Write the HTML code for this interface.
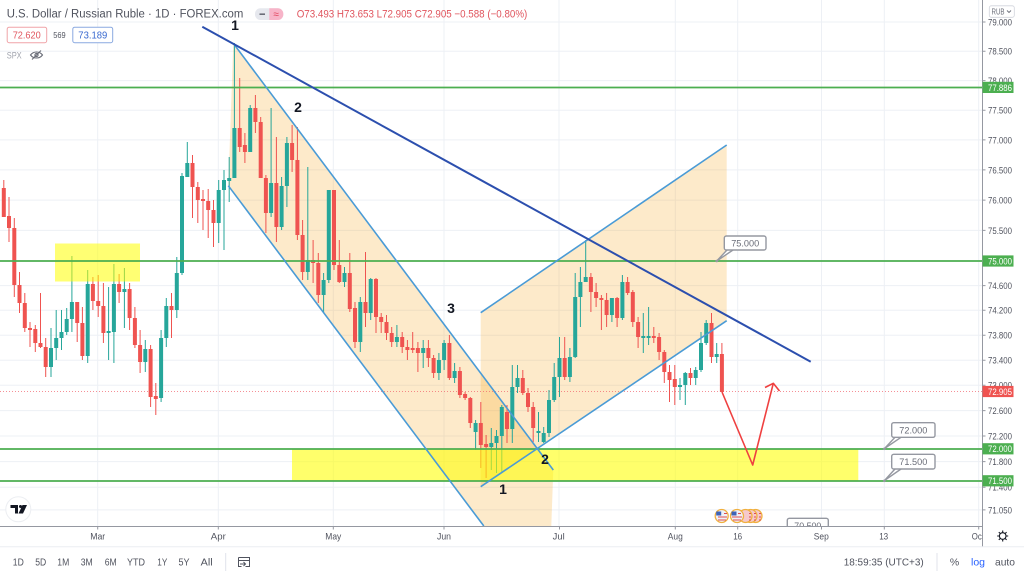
<!DOCTYPE html>
<html><head><meta charset="utf-8">
<style>
html,body{margin:0;padding:0;background:#fff;width:1024px;height:576px;overflow:hidden;}
svg{display:block;position:absolute;left:0;top:0;font-family:"Liberation Sans",sans-serif;}
</style></head>
<body>
<svg width="1024" height="576" viewBox="0 0 1024 576" xmlns="http://www.w3.org/2000/svg">
<defs>
<clipPath id="plot"><rect x="0" y="0" width="982" height="526"/></clipPath>
</defs>
<rect width="1024" height="576" fill="#fff"/>

<!-- grid -->
<g stroke="#edf0f5" stroke-width="1">
<path d="M0 22H982M0 51.2H982M0 80.6H982M0 110.2H982M0 139.9H982M0 169.9H982M0 200.1H982M0 230.4H982M0 261H982M0 285.6H982M0 310.3H982M0 335.2H982M0 360.2H982M0 385.3H982M0 410.6H982M0 436H982M0 461.6H982M0 487.3H982M0 509.9H982"/>
<path d="M97.7 0V526M218.3 0V526M333.3 0V526M444 0V526M559 0V526M675.3 0V526M737.7 0V526M821.5 0V526M884.3 0V526M978.7 0V526"/>
</g>

<g clip-path="url(#plot)">
<!-- peach shadings -->
<polygon points="233.3,43.3 553.3,470 551.3,526 483.8,526 228.3,185.7" fill="rgba(245,166,35,0.24)"/>
<polygon points="480.7,312.7 726.7,145 726.7,320.7 480.7,486.7" fill="rgba(245,166,35,0.24)"/>

<!-- last price dotted line -->
<path d="M0 391.5H982" stroke="#f2606a" stroke-width="1" stroke-dasharray="1,2" opacity="0.7"/>

<!-- candles: wicks -->
<path stroke="#26a69a" stroke-width="1" fill="none" d="M51 328V377M56.2 310V360M61.5 310V350M66.7 308V335M71.9 256V332M87.7 270V363M108.6 287V360M113.9 264V363M124.4 268V328M145.3 340V372M161.1 330V402M166.3 298V347M176.8 257V318M182 173V275M187.3 142V177M218.7 180V243M224 170V250M229.2 157V202M234.4 43V178M250.2 105V152M271.1 108V217M281.6 177V230M286.9 137V207M307.8 167V280M323.6 273V313M328.8 190V283M344.5 267V287M360.3 297V352M370.7 278V320M396.9 325V347M423.2 340V368M438.9 353V380M444.1 340V370M454.6 363V383M475.6 420V450M491.3 428V470M496.5 430V473M501.8 405V472M512.3 365V443M517.5 365V393M538.5 412V442M543.7 427V443M549 390V437M554.2 363V402M559.5 337V397M569.9 348V382M575.2 273V358M580.4 267V327M585.7 240V282M611.9 298V322M622.4 275V320M643.3 313V353M648.6 307V345M680 378V400M685.3 372V405M695.7 367V385M701 332V372M706.2 320V345M716.7 343V363"/>
<path stroke="#ef5350" stroke-width="1" fill="none" d="M3.8 180V217M9 197V242M14.3 218V297M19.5 272V313M24.8 293V332M30 322V347M35.3 325V352M40.5 293V348M45.7 338V377M77.2 302V342M82.4 307V360M92.9 277V310M98.2 275V317M103.4 283V343M119.1 274V303M129.6 283V330M134.9 307V348M140.1 330V373M150.6 345V407M155.8 383V415M171.5 293V338M192.5 155V218M197.8 182V223M203 190V230M208.2 189V238M213.5 200V247M239.7 78V152M244.9 133V163M255.4 95V133M260.7 117V178M265.9 175V233M276.4 137V242M292.1 125V172M297.4 127V240M302.6 220V280M313.1 240V283M318.3 253V303M334 190V270M339.3 240V283M349.8 253V312M355 302V348M365.5 252V327M376 278V333M381.2 313V333M386.5 315V340M391.7 327V347M402.2 332V353M407.4 340V360M412.7 332V353M417.9 342V372M428.4 340V367M433.6 355V378M449.4 335V380M459.9 367V398M465.1 392V400M470.3 397V428M480.8 402V468M486.1 435V478M507 405V443M522.8 370V395M528 388V412M533.2 402V442M564.7 337V380M590.9 273V312M596.1 283V307M601.4 295V330M606.6 293V327M617.1 297V327M627.6 277V295M632.8 290V327M638.1 317V348M653.8 327V343M659.1 333V360M664.3 350V383M669.5 365V402M674.8 365V405M690.5 368V385M711.5 313V363M721.9 343V392"/>
<!-- candles: bodies -->
<path fill="#26a69a" d="M49 348h4v19h-4zM54.2 338h4v10h-4zM59.5 332h4v6h-4zM64.7 319h4v13h-4zM69.9 302h4v17h-4zM85.7 284h4v72h-4zM106.6 331h4v2h-4zM111.9 284h4v48h-4zM122.4 289h4v3h-4zM143.3 349h4v13h-4zM159.1 338h4v60h-4zM164.3 306h4v32h-4zM174.8 273h4v37h-4zM180 176h4v97h-4zM185.3 163h4v14h-4zM216.7 190h4v33h-4zM222 180h4v10h-4zM227.2 178h4v3h-4zM232.4 128h4v50h-4zM248.2 108h4v44h-4zM269.1 183h4v30h-4zM279.6 186h4v41h-4zM284.9 143h4v43h-4zM305.8 260h4v12h-4zM321.6 280h4v15h-4zM326.8 190h4v90h-4zM342.5 273h4v9h-4zM358.3 302h4v40h-4zM368.7 279h4v34h-4zM394.9 337h4v5h-4zM421.2 348h4v5h-4zM436.9 360h4v13h-4zM442.1 343h4v17h-4zM452.6 371h4v7h-4zM473.6 423h4v9h-4zM489.3 443h4v4h-4zM494.5 436h4v7h-4zM499.8 407h4v29h-4zM510.3 387h4v42h-4zM515.5 378h4v9h-4zM536.5 431h4v2h-4zM541.7 433h4v9h-4zM547 400h4v33h-4zM552.2 377h4v23h-4zM557.5 358h4v19h-4zM567.9 357h4v20h-4zM573.2 297h4v60h-4zM578.4 282h4v15h-4zM583.7 277h4v5h-4zM609.9 298h4v17h-4zM620.4 282h4v36h-4zM641.3 336h4v2h-4zM646.6 336h4v2h-4zM678 385h4v2h-4zM683.3 373h4v12h-4zM693.7 370h4v8h-4zM699 343h4v27h-4zM704.2 323h4v20h-4zM714.7 354h4v3h-4z"/>
<path fill="#ef5350" d="M1.8 188h4v29h-4zM7 216h4v12h-4zM12.3 228h4v57h-4zM17.5 285h4v18h-4zM22.8 303h4v25h-4zM28 328h4v2h-4zM33.3 329h4v14h-4zM38.5 343h4v4h-4zM43.7 347h4v20h-4zM75.2 302h4v21h-4zM80.4 323h4v33h-4zM90.9 284h4v17h-4zM96.2 301h4v5h-4zM101.4 306h4v27h-4zM117.1 284h4v8h-4zM127.6 289h4v29h-4zM132.9 318h4v27h-4zM138.1 345h4v17h-4zM148.6 349h4v48h-4zM153.8 396h4v3h-4zM169.5 306h4v4h-4zM190.5 163h4v24h-4zM195.8 187h4v13h-4zM201 199h4v2h-4zM206.2 201h4v9h-4zM211.5 210h4v13h-4zM237.7 128h4v19h-4zM242.9 145h4v7h-4zM253.4 108h4v14h-4zM258.7 122h4v56h-4zM263.9 178h4v35h-4zM274.4 183h4v44h-4zM290.1 143h4v17h-4zM295.4 160h4v75h-4zM300.6 235h4v37h-4zM311.1 260h4v3h-4zM316.3 263h4v32h-4zM332 190h4v75h-4zM337.3 265h4v17h-4zM347.8 273h4v36h-4zM353 308h4v34h-4zM363.5 302h4v11h-4zM374 279h4v38h-4zM379.2 317h4v5h-4zM384.5 322h4v11h-4zM389.7 333h4v9h-4zM400.2 337h4v10h-4zM405.4 347h4v3h-4zM410.7 348h4v2h-4zM415.9 348h4v5h-4zM426.4 348h4v10h-4zM431.6 358h4v15h-4zM447.4 343h4v35h-4zM457.9 371h4v24h-4zM463.1 394h4v4h-4zM468.3 398h4v25h-4zM478.8 423h4v22h-4zM484.1 444h4v3h-4zM505 412h4v17h-4zM520.8 378h4v15h-4zM526 393h4v14h-4zM531.2 407h4v21h-4zM562.7 358h4v19h-4zM588.9 277h4v15h-4zM594.1 292h4v6h-4zM599.4 298h4v2h-4zM604.6 300h4v15h-4zM615.1 298h4v20h-4zM625.6 282h4v11h-4zM630.8 292h4v30h-4zM636.1 322h4v15h-4zM651.8 336h4v2h-4zM657.1 337h4v15h-4zM662.3 352h4v20h-4zM667.5 372h4v8h-4zM672.8 379h4v8h-4zM688.5 373h4v5h-4zM709.5 323h4v34h-4zM719.9 354h4v38h-4z"/>

<!-- yellow boxes -->
<rect x="55" y="243.5" width="85" height="38" fill="rgba(255,255,0,0.55)"/>
<rect x="292" y="449" width="566.3" height="31.5" fill="rgba(255,255,0,0.58)"/>

<!-- green horizontal lines -->
<g stroke="#4caf50" stroke-width="1.7">
<path d="M0 87.5H982M0 261H982M0 449H982M0 481H982"/>
</g>

<!-- channel lines -->
<g stroke="#4a9bd6" stroke-width="1.6" fill="none">
<path d="M233.3 43.3L553.3 470"/>
<path d="M228.3 185.7L483.8 526"/>
<path d="M480.7 486.7L726.7 320.7"/>
<path d="M480.7 312.7L726.7 145"/>
</g>
<!-- trend line -->
<path d="M202.3 26.7L810.7 361.7" stroke="#2c4fae" stroke-width="2" fill="none"/>

<!-- red arrow -->
<g stroke="#ef4040" stroke-width="1.6" fill="none" stroke-linejoin="round">
<path d="M722 392L752.7 465L773.3 383.3"/>
<path d="M765 387.5L773.3 383.3L779.5 391"/>
</g>

<!-- wave labels -->
<g font-size="14" font-weight="bold" fill="#131722" text-anchor="middle">
<text x="235" y="30">1</text>
<text x="298" y="112">2</text>
<text x="451" y="313">3</text>
<text x="545" y="464">2</text>
<text x="503" y="494">1</text>
</g>

<!-- callouts -->
<g stroke="#9598a1" stroke-width="1.4" fill="#fff">
<path d="M727 250L716.7 261L733 250" fill="#fff"/>
<rect x="724.3" y="236" width="41.7" height="14" rx="2"/>
<path d="M895 437.3L884.3 448.7L901 437.3"/>
<rect x="891.7" y="422.7" width="43.3" height="14.6" rx="2"/>
<path d="M895 469L884.3 480.7L901 469"/>
<rect x="891.7" y="454.3" width="43.3" height="14.7" rx="2"/>
<rect x="787.3" y="518.3" width="41" height="10" rx="2"/>
</g>
<g fill="#6a6d78" font-size="9.5" text-anchor="middle">
<text x="745.2" y="246.5" textLength="28" lengthAdjust="spacingAndGlyphs">75.000</text>
<text x="913.3" y="433.5" textLength="28" lengthAdjust="spacingAndGlyphs">72.000</text>
<text x="913.3" y="465.2" textLength="28" lengthAdjust="spacingAndGlyphs">71.500</text>
<text x="807.8" y="529" textLength="27" lengthAdjust="spacingAndGlyphs">70.500</text>
</g>
<circle cx="716.7" cy="261" r="1.3" fill="#9598a1"/>
<circle cx="884.3" cy="448.8" r="1.3" fill="#9598a1"/>
<circle cx="884.3" cy="480.8" r="1.3" fill="#9598a1"/>

<!-- event icons -->
<g stroke="#f0b040" stroke-width="1.3">
<circle cx="755.5" cy="516" r="6.5" fill="#f6c9cc"/>
<circle cx="750.5" cy="516" r="6.5" fill="#f6c9cc"/>
<circle cx="745.5" cy="516" r="6.5" fill="#f6c9cc"/>
<circle cx="737" cy="516" r="6.5" fill="#eef1f8"/>
<circle cx="721.7" cy="516" r="6.5" fill="#eef1f8"/>
</g>
<g stroke="#e05050" stroke-width="1.1">
<path d="M759 513.5h2M759 517h2M759 520h2M754 513.5h2M754 517h2M754 520h2M749 513.5h2M749 517h2M749 520h2"/>
<path d="M732 517h10M733 520h8M718 517h9M718 520h8M727 513.5h-3"/>
<path d="M741 513.5h-3"/>
</g>
<rect x="731.5" y="511.5" width="5" height="4" fill="#3d63b8"/>
<rect x="716.2" y="511.5" width="5" height="4" fill="#3d63b8"/>
</g>

<!-- header legend -->
<text x="6.7" y="17.5" font-size="11.5" fill="#50535e" textLength="236.6" lengthAdjust="spacingAndGlyphs">U.S. Dollar / Russian Ruble · 1D · FOREX.com</text>
<rect x="255" y="8.3" width="28.3" height="11.7" rx="5.5" fill="#e6e8ee"/>
<path d="M269.3 8.3h8.5a5.5 5.5 0 0 1 5.5 5.5v0.7a5.5 5.5 0 0 1 -5.5 5.5h-8.5z" fill="#f7b4c8"/>
<path d="M259.5 14.2h5.5" stroke="#6a6d78" stroke-width="1.6"/>
<text x="276.3" y="17.5" font-size="10" fill="#e0405a" text-anchor="middle">≈</text>
<text x="296.7" y="17.5" font-size="11" fill="#e0555e" textLength="230.6" lengthAdjust="spacingAndGlyphs">O73.493 H73.653 L72.905 C72.905 −0.588 (−0.80%)</text>

<rect x="7.2" y="27.2" width="39.5" height="15.5" rx="2" fill="#fff" stroke="#f0a4a8" stroke-width="1"/>
<text x="12.7" y="38.3" font-size="10.5" fill="#e0555e" textLength="28" lengthAdjust="spacingAndGlyphs">72.620</text>
<text x="53.3" y="37.8" font-size="8.5" fill="#50535e" textLength="12.4" lengthAdjust="spacingAndGlyphs">569</text>
<rect x="72.8" y="27.2" width="39.9" height="15.5" rx="2" fill="#fff" stroke="#8aa9e0" stroke-width="1"/>
<text x="78.3" y="38.3" font-size="10.5" fill="#3a6ad0" textLength="29" lengthAdjust="spacingAndGlyphs">73.189</text>
<text x="6.7" y="58.5" font-size="9.5" fill="#a0a3ad" textLength="15" lengthAdjust="spacingAndGlyphs">SPX</text>
<g stroke="#6a6d78" stroke-width="1.1" fill="none">
<path d="M30.5 55c3-4 9-4 12 0c-3 4-9 4-12 0z"/>
<circle cx="36.5" cy="55" r="1.6"/>
<path d="M32 59.5L41 50.5"/>
</g>

<!-- TV logo -->
<circle cx="18.3" cy="509.3" r="12.5" fill="#fff" stroke="#eceef2" stroke-width="1"/>
<path d="M10.5 505h7.5v8.5h-3v-5.5h-4.5z" fill="#131722"/>
<circle cx="20.5" cy="506.5" r="1.5" fill="#131722"/>
<path d="M22.5 505h4.5l-4 8.5h-4.5z" fill="#131722"/>

<!-- price axis -->
<path d="M982.5 0V547" stroke="#9598a1" stroke-width="1"/>
<g stroke="#9598a1" stroke-width="1">
<path d="M982.5 22h3M982.5 51.2h3M982.5 80.6h3M982.5 110.2h3M982.5 139.9h3M982.5 169.9h3M982.5 200.1h3M982.5 230.4h3M982.5 285.6h3M982.5 310.3h3M982.5 335.2h3M982.5 360.2h3M982.5 385.3h3M982.5 410.6h3M982.5 436h3M982.5 461.6h3M982.5 487.3h3M982.5 509.9h3"/>
</g>
<g font-size="9.5" fill="#50535e">
<text x="988" y="25.4" textLength="24" lengthAdjust="spacingAndGlyphs">79.000</text>
<text x="988" y="54.6" textLength="24" lengthAdjust="spacingAndGlyphs">78.500</text>
<text x="988" y="84" textLength="24" lengthAdjust="spacingAndGlyphs">78.000</text>
<text x="988" y="113.6" textLength="24" lengthAdjust="spacingAndGlyphs">77.500</text>
<text x="988" y="143.3" textLength="24" lengthAdjust="spacingAndGlyphs">77.000</text>
<text x="988" y="173.3" textLength="24" lengthAdjust="spacingAndGlyphs">76.500</text>
<text x="988" y="203.5" textLength="24" lengthAdjust="spacingAndGlyphs">76.000</text>
<text x="988" y="233.8" textLength="24" lengthAdjust="spacingAndGlyphs">75.500</text>
<text x="988" y="289" textLength="24" lengthAdjust="spacingAndGlyphs">74.600</text>
<text x="988" y="313.7" textLength="24" lengthAdjust="spacingAndGlyphs">74.200</text>
<text x="988" y="338.6" textLength="24" lengthAdjust="spacingAndGlyphs">73.800</text>
<text x="988" y="363.6" textLength="24" lengthAdjust="spacingAndGlyphs">73.400</text>
<text x="988" y="388.7" textLength="24" lengthAdjust="spacingAndGlyphs">73.000</text>
<text x="988" y="414" textLength="24" lengthAdjust="spacingAndGlyphs">72.600</text>
<text x="988" y="439.4" textLength="24" lengthAdjust="spacingAndGlyphs">72.200</text>
<text x="988" y="465" textLength="24" lengthAdjust="spacingAndGlyphs">71.800</text>
<text x="988" y="490.7" textLength="24" lengthAdjust="spacingAndGlyphs">71.400</text>
<text x="988" y="513.3" textLength="24" lengthAdjust="spacingAndGlyphs">71.050</text>
</g>
<!-- price label boxes -->
<g>
<rect x="982.5" y="81.8" width="31" height="11.2" fill="#4caf50"/>
<rect x="982.5" y="255.4" width="31" height="11.2" fill="#4caf50"/>
<rect x="982.5" y="385.9" width="31" height="11.2" fill="#ef5350"/>
<rect x="982.5" y="443.2" width="31" height="11.2" fill="#4caf50"/>
<rect x="982.5" y="475.2" width="31" height="11.2" fill="#4caf50"/>
</g>
<g font-size="9.5" fill="#fff">
<text x="988" y="90.8" textLength="24" lengthAdjust="spacingAndGlyphs">77.886</text>
<text x="988" y="264.4" textLength="24" lengthAdjust="spacingAndGlyphs">75.000</text>
<text x="988" y="394.9" textLength="24" lengthAdjust="spacingAndGlyphs">72.905</text>
<text x="988" y="452.2" textLength="24" lengthAdjust="spacingAndGlyphs">72.000</text>
<text x="988" y="484.2" textLength="24" lengthAdjust="spacingAndGlyphs">71.500</text>
</g>
<!-- RUB -->
<rect x="989.3" y="5.8" width="25" height="11.5" rx="2" fill="#fff" stroke="#d1d4dc" stroke-width="0.8"/>
<text x="991.5" y="14.6" font-size="8" fill="#6a6d78" textLength="13" lengthAdjust="spacingAndGlyphs">RUB</text>
<path d="M1007 10.5l2 2l2-2" stroke="#6a6d78" stroke-width="0.9" fill="none"/>

<!-- time axis -->
<path d="M0 526.5H982.5" stroke="#9598a1" stroke-width="1"/>
<g stroke="#9598a1" stroke-width="1">
<path d="M97.7 526.5v3M218.3 526.5v3M333.3 526.5v3M444 526.5v3M559.5 526.5v3M675.3 526.5v3M737.7 526.5v3M821.5 526.5v3M884.3 526.5v3M978.7 526.5v3"/>
</g>
<g font-size="9" fill="#50535e" text-anchor="middle">
<text x="97.7" y="539.5" textLength="15" lengthAdjust="spacingAndGlyphs">Mar</text>
<text x="218.3" y="539.5" textLength="15" lengthAdjust="spacingAndGlyphs">Apr</text>
<text x="333.3" y="539.5" textLength="16" lengthAdjust="spacingAndGlyphs">May</text>
<text x="444" y="539.5" textLength="14" lengthAdjust="spacingAndGlyphs">Jun</text>
<text x="558.7" y="539.5" textLength="12" lengthAdjust="spacingAndGlyphs">Jul</text>
<text x="675.3" y="539.5" textLength="15" lengthAdjust="spacingAndGlyphs">Aug</text>
<text x="737.7" y="539.5" textLength="9" lengthAdjust="spacingAndGlyphs">16</text>
<text x="821.3" y="539.5" textLength="15" lengthAdjust="spacingAndGlyphs">Sep</text>
<text x="883.7" y="539.5" textLength="9" lengthAdjust="spacingAndGlyphs">13</text>
<text x="976.8" y="539.5" textLength="10" lengthAdjust="spacingAndGlyphs">Oc</text>
</g>
<rect x="983" y="527" width="41" height="19" fill="#fff"/>
<path d="M982.5 526V547" stroke="#9598a1" stroke-width="1"/>
<!-- gear -->
<g stroke="#131722" stroke-width="1.1" fill="none">
<circle cx="1002.7" cy="536" r="3.3"/>
<path d="M1002.7 530.5v2M1002.7 539.5v2M997.2 536h2M1006.2 536h2M998.8 532.1l1.4 1.4M1005.2 538.5l1.4 1.4M998.8 539.9l1.4-1.4M1005.2 533.5l1.4-1.4"/>
</g>

<!-- separator & toolbar -->
<path d="M0 546.8H1024" stroke="#eceef2" stroke-width="1"/>
<g font-size="10" fill="#50535e" text-anchor="middle">
<text x="18.3" y="565.5" textLength="11" lengthAdjust="spacingAndGlyphs">1D</text>
<text x="40.7" y="565.5" textLength="11" lengthAdjust="spacingAndGlyphs">5D</text>
<text x="63.3" y="565.5" textLength="12" lengthAdjust="spacingAndGlyphs">1M</text>
<text x="86.7" y="565.5" textLength="12" lengthAdjust="spacingAndGlyphs">3M</text>
<text x="110.7" y="565.5" textLength="12" lengthAdjust="spacingAndGlyphs">6M</text>
<text x="136" y="565.5" textLength="18" lengthAdjust="spacingAndGlyphs">YTD</text>
<text x="162.3" y="565.5" textLength="10" lengthAdjust="spacingAndGlyphs">1Y</text>
<text x="184" y="565.5" textLength="11" lengthAdjust="spacingAndGlyphs">5Y</text>
<text x="206.7" y="565.5" textLength="12" lengthAdjust="spacingAndGlyphs">All</text>
</g>
<path d="M225.7 553V571" stroke="#e0e3eb" stroke-width="1"/>
<g stroke="#50535e" stroke-width="1" fill="none">
<path d="M238.5 557.5h11v9h-4M238.5 557.5v9h3M238.5 560.5h11"/>
<path d="M240 564h5M243.5 562l2 2l-2 2"/>
</g>
<text x="843.7" y="565.5" font-size="10" fill="#50535e" textLength="80" lengthAdjust="spacingAndGlyphs">18:59:35 (UTC+3)</text>
<path d="M937 553V571" stroke="#e0e3eb" stroke-width="1"/>
<text x="954.5" y="565.5" font-size="10.5" fill="#50535e" text-anchor="middle">%</text>
<text x="978" y="565.5" font-size="10.5" fill="#2962ff" text-anchor="middle" textLength="14" lengthAdjust="spacingAndGlyphs">log</text>
<text x="1005" y="565.5" font-size="10.5" fill="#50535e" text-anchor="middle" textLength="20" lengthAdjust="spacingAndGlyphs">auto</text>
</svg>
</body></html>
